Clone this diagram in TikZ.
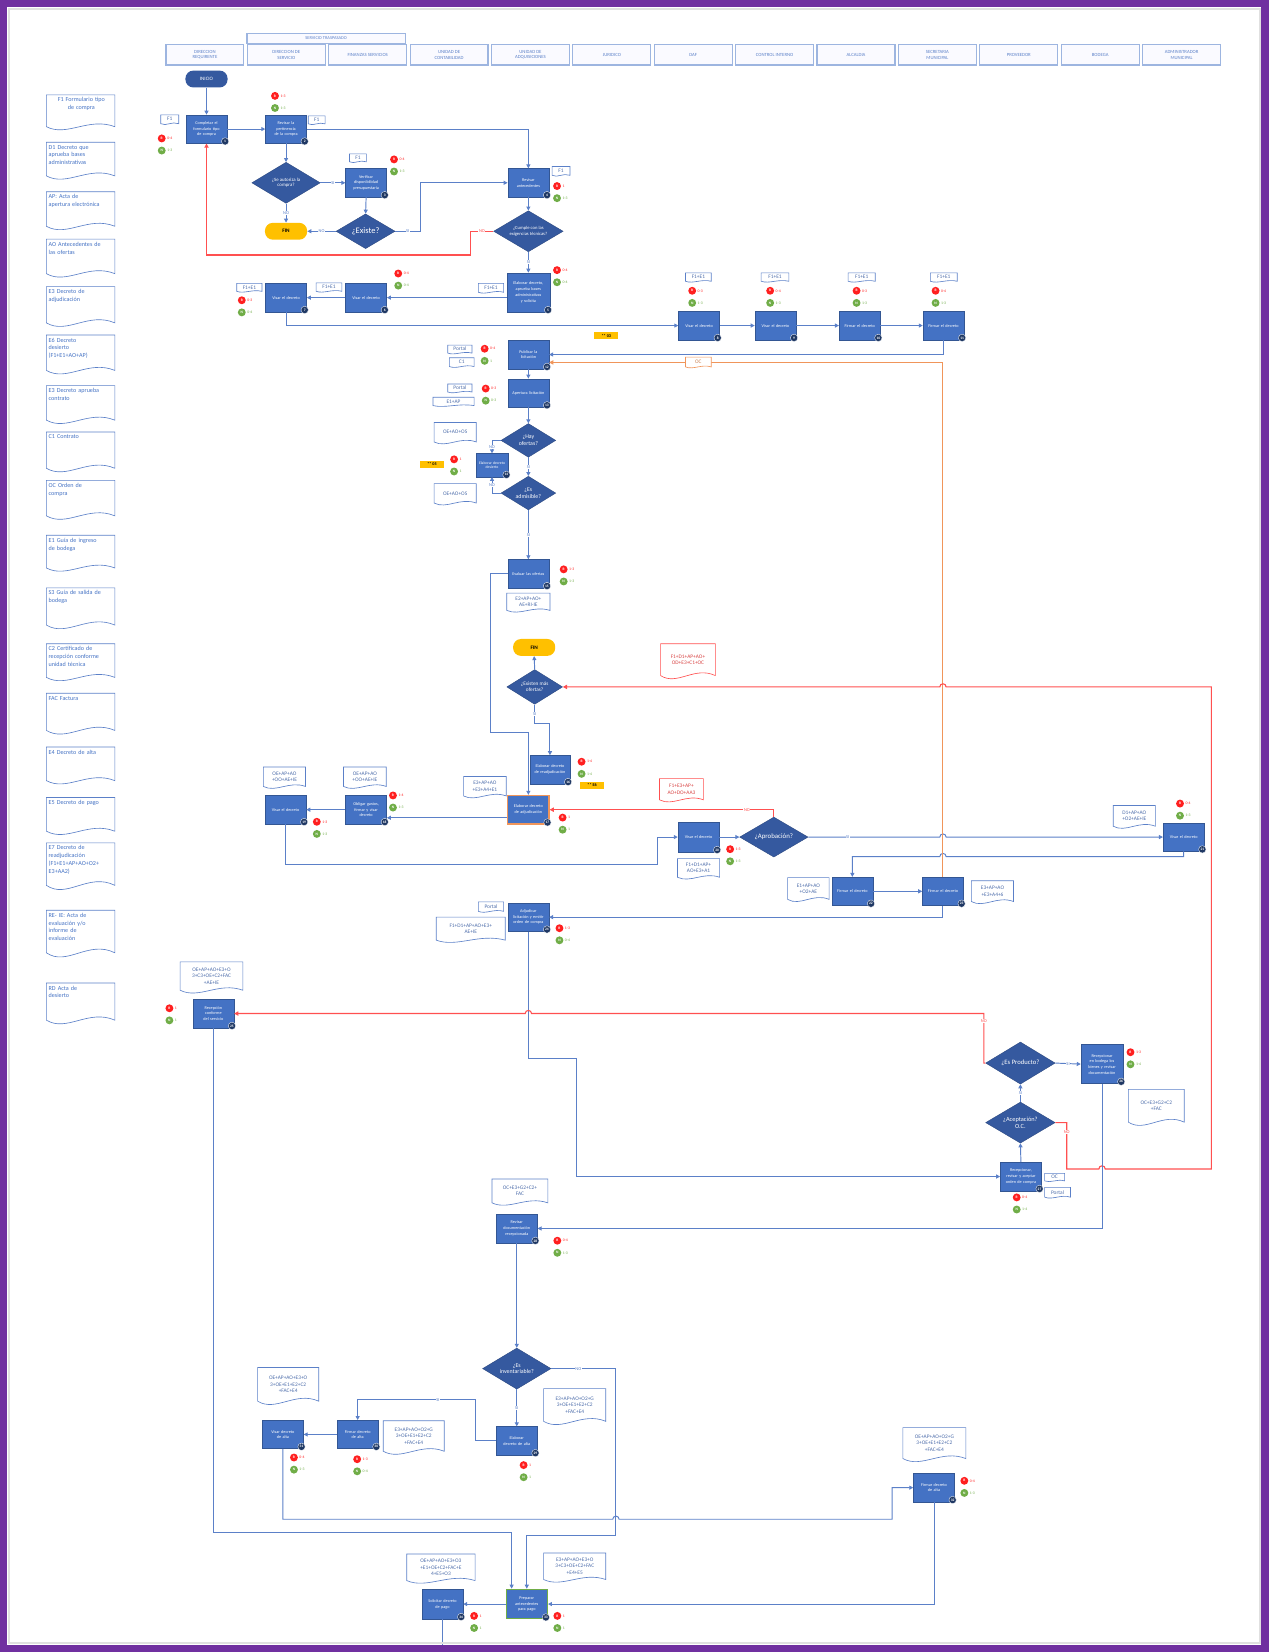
\documentclass[tikz,border=0pt]{standalone}
\usepackage{fontspec}
\setmainfont{Carlito}
\usetikzlibrary{shapes.geometric,arrows.meta}
\definecolor{pblue}{HTML}{4472C4}
\definecolor{dblue}{HTML}{35599F}
\definecolor{navy}{HTML}{1F3864}
\definecolor{lblue}{HTML}{5B80C8}
\definecolor{lanec}{HTML}{9DB5E0}
\definecolor{rline}{HTML}{FF5050}
\definecolor{oline}{HTML}{F0955A}
\definecolor{purp}{HTML}{7030A0}
\definecolor{ylw}{HTML}{FFC000}
\definecolor{gdot}{HTML}{70AD47}
\definecolor{rdot}{HTML}{FF1F1F}
\tikzset{
  lane/.style={rectangle, draw=lanec, line width=1.1pt, fill=blue!2, minimum width=74pt, minimum height=19.5pt, inner sep=0pt, align=center, font=\fontsize{4.5}{5.4}\selectfont, text=lblue},
  proc/.style={rectangle, fill=pblue, draw=pblue!75!black, line width=0.35pt, text=white, font=\fontsize{4}{5.4}\selectfont, minimum width=39pt, minimum height=27pt, text width=31pt, align=center, inner sep=1pt},
  dec/.style={diamond, shape aspect=1.6, fill=dblue, draw=dblue!80!black, line width=0.35pt, text=white, align=center, inner sep=0pt},
  term/.style={rectangle, rounded corners=7.5pt, minimum width=40pt, minimum height=16pt, inner sep=0pt, font=\fontsize{4.8}{5}\selectfont},
  badge/.style={circle, fill=navy, draw=white, line width=0.3pt, text=white, font=\fontsize{3.4}{3.4}\selectfont\bfseries, minimum size=7pt, inner sep=0pt},
  conn/.style={draw=lblue, line width=0.9pt, -{Triangle[length=3.8pt,width=3.8pt]}},
  lineonly/.style={draw=lblue, line width=0.9pt},
  redc/.style={draw=rline, line width=1.05pt, -{Triangle[length=4pt,width=4pt]}},
  orc/.style={draw=oline, line width=0.9pt, -{Triangle[length=4pt,width=4pt]}},
  lbl/.style={font=\fontsize{4.2}{4.2}\selectfont, text=lblue, fill=white, inner sep=0.6pt},
  rlbl/.style={lbl, text=rline},
  docline/.style={line width=0.6pt, fill=white},
  doctext/.style={font=\fontsize{5.1}{6}\selectfont, align=center, inner sep=0pt},
  ltext/.style={anchor=north west, text width=62pt, inner sep=0pt, font=\fontsize{5.8}{7.4}\selectfont, text=pblue},
  rdotn/.style={circle, fill=rdot, minimum size=7.5pt, inner sep=0pt, text=white, font=\fontsize{3.4}{3.4}\selectfont\bfseries},
  gdotn/.style={circle, fill=gdot, minimum size=7.5pt, inner sep=0pt, text=white, font=\fontsize{3.4}{3.4}\selectfont\bfseries},
  rlab/.style={anchor=west, inner sep=0.3pt, text=rdot, font=\fontsize{3.6}{3.6}\selectfont},
  glab/.style={anchor=west, inner sep=0.3pt, text=gdot, font=\fontsize{3.6}{3.6}\selectfont},
  ytag/.style={fill=ylw, minimum width=23pt, minimum height=7pt, inner sep=0pt, font=\fontsize{4}{4}\selectfont\bfseries},
}
% document shape: [colour] name x y(top) w h text
\newcommand\docu[7][lblue]{%
  \draw[docline,draw=#1] (#3,#4) -- (#3,#4+0.84*#6) .. controls (#3+0.3*#5,#4+1.12*#6) and (#3+0.62*#5,#4+0.58*#6) .. (#3+#5,#4+0.84*#6) -- (#3+#5,#4) -- cycle;
  \node[doctext,text=#1!85!black] (#2) at (#3+0.5*#5,#4+0.42*#6) {#7};
}
% left column document: [align] name ytop h text
\newcommand\ldoc[5][align=left]{%
  \draw[docline,draw=lblue] (44,#3) -- (44,#3+0.84*#4) .. controls (63.5,#3+1.12*#4) and (84,#3+0.58*#4) .. (109,#3+0.84*#4) -- (109,#3) -- cycle;
  \node[ltext,#1] (#2) at (46,#3+2.5) {#5};
}
% process box with number badge
\newcommand\pbox[6][]{%
  \node[proc,#1] (#2) at (#3,#4) {#5};
  \node[badge] (#2n) at ([xshift=-2pt,yshift=2pt]#2.south east) {#6};
}
% risk circles
\newcommand\rg[5]{%
  \node[rdotn] (#1r) at (#2,#3) {R};
  \node[rlab] (#1rl) at ([xshift=0.8pt]#1r.east) {#4};
  \node[gdotn] (#1g) at (#2,#3+11.5) {N};
  \node[glab] (#1gl) at ([xshift=0.8pt]#1g.east) {#5};
}
\begin{document}
\hyphenpenalty=10000
\exhyphenpenalty=10000
\begin{tikzpicture}[x=1pt,y=-1pt]
\useasboundingbox (0,0) rectangle (1204,1568);
\fill[white] (0,0) rectangle (1204,1568);

% ---------- header ----------
\node[lane, minimum width=150pt, minimum height=9.5pt, font=\fontsize{4.2}{4.2}\selectfont] (ST) at (309.5,36.4) {SERVICIO TRASPASADO};
\foreach \i/\t in {0/{DIRECCION\\REQUIRENTE},1/{DIRECCION DE\\SERVICIO},2/{FINANZAS SERVICIOS},3/{UNIDAD DE\\CONTABILIDAD},4/{UNIDAD DE\\ADQUISICIONES},5/{JURIDICO},6/{DAF},7/{CONTROL INTERNO},8/{ALCALDIA},9/{SECRETARIA\\MUNICIPAL},10/{PROVEEDOR},11/{BODEGA},12/{ADMINISTRADOR\\MUNICIPAL}}
  \node[lane] (L\i) at ({194.5+77.25*\i},52) {\t};

% ---------- left documents ----------
\ldoc[align=center]{ld1}{90}{36}{F1 Formulario tipo\\de compra}
\ldoc{ld2}{135}{38}{D1 Decreto que\\aprueba bases\\administrativas}
\ldoc{ld3}{182}{39}{AP: Acta de\\apertura electrónica}
\ldoc{ld4}{227}{39}{AO Antecedentes de\\las ofertas}
\ldoc{ld5}{272}{41}{E3 Decreto de\\adjudicación}
\ldoc{ld6}{318}{40}{E6 Decreto\\desierto\\(F1+E1+AO+AP)}
\ldoc{ld7}{366}{39}{E3 Decreto aprueba\\contrato}
\ldoc{ld8}{410}{41}{C1 Contrato}
\ldoc{ld9}{456}{40}{OC Orden de\\compra}
\ldoc{ld10}{508}{37}{E1 Guía de ingreso\\de bodega}
\ldoc{ld11}{558}{42}{S3 Guía de salida de\\bodega}
\ldoc{ld12}{611}{38}{C2 Certificado de\\recepción conforme\\unidad técnica}
\ldoc{ld13}{658}{42}{FAC Factura}
\ldoc{ld14}{709}{38}{E4 Decreto de alta}
\ldoc{ld15}{757}{38}{E5 Decreto de pago}
\ldoc{ld16}{800}{48}{E7 Decreto de\\readjudicación\\(F1+E1+AP+AO+O2+\\E3+AA2)}
\ldoc{ld17}{864}{48}{RE- IE: Acta de\\evaluación y/o\\informe de\\evaluación}
\ldoc{ld18}{933}{42}{RD Acta de\\desierto}

% ---------- main nodes ----------
\node[term, fill=dblue, text=white] (ini) at (196,75) {INICIO};
\pbox{b1}{196}{122.5}{Completar el formulario tipo de compra}{1}
\pbox{b2}{271.5}{122.5}{Revisar la pertinencia de la compra}{2}
\node[dec, minimum width=65pt, minimum height=39pt, font=\fontsize{4.6}{5.4}\selectfont] (dA) at (271.5,173.5) {¿Se autoriza la\\compra?};
\pbox{b3}{347.5}{173.5}{Verificar disponibilidad presupuestaria}{3}
\node[dec, minimum width=56pt, minimum height=33pt, font=\fontsize{8}{8}\selectfont] (dB) at (347,219.5) {¿Existe?};
\node[term, fill=ylw, font=\fontsize{5}{5}\selectfont\bfseries] (fin1) at (271.5,219.5) {FIN};
\pbox{b4}{501.5}{173.5}{Revisar antecedentes}{4}
\node[dec, minimum width=66pt, minimum height=39pt, font=\fontsize{4.4}{5.2}\selectfont] (dC) at (501.5,219.5) {¿Cumple con las\\exigencias técnicas?};
\pbox[minimum width=41pt, minimum height=37pt]{b5}{501.5}{277.5}{Elaborar decreto, aprueba bases administrativas y solicita}{5}
\pbox{b6}{347.5}{282.5}{Visar el decreto}{6}
\pbox{b7}{271.5}{282.5}{Visar el decreto}{7}
\pbox{b8}{663.5}{309}{Visar el decreto}{8}
\pbox{b9}{736}{309}{Visar el decreto}{9}
\pbox{b10}{816}{309}{Firmar el decreto}{10}
\pbox{b11}{895.5}{309}{Firmar el decreto}{11}
\pbox{b12}{501.5}{336.5}{Publicar la licitación}{12}
\pbox{b13}{501.5}{373}{Apertura licitación}{13}
\node[dec, minimum width=52pt, minimum height=32pt, font=\fontsize{5.5}{6.2}\selectfont] (dD) at (501.5,418) {¿Hay\\ofertas?};
\pbox[minimum width=31pt, minimum height=22pt, text width=27pt, font=\fontsize{3.6}{4.4}\selectfont]{b14}{467}{441.5}{Elaborar decreto desierto}{14}
\node[dec, minimum width=52pt, minimum height=32pt, font=\fontsize{5.5}{6.2}\selectfont] (dE) at (501.5,468) {¿Es\\admisible?};
\pbox{b15}{501.5}{544.5}{Evaluar las ofertas}{15}
\node[term, fill=ylw, font=\fontsize{5}{5}\selectfont\bfseries] (fin2) at (507,614.5) {FIN};
\node[dec, minimum width=53pt, minimum height=33pt, font=\fontsize{5}{5.8}\selectfont] (dF) at (507.5,652) {¿Existen más\\ofertas?};
\pbox[minimum width=38pt]{b16}{522}{730.5}{Elaborar decreto de readjudicación}{16}
\pbox[draw=oline, line width=1.2pt]{b17}{501.5}{768.5}{Elaborar decreto de adjudicación}{17}
\pbox{b19}{347.5}{768.5}{Obligar gastos, firmar y visar decreto}{18}
\pbox{b18}{271}{768.5}{Visar el decreto}{19}
\pbox[minimum height=28pt]{b20}{663}{794.5}{Visar el decreto}{20}
\node[dec, minimum width=65pt, minimum height=38pt, font=\fontsize{6.5}{6.5}\selectfont] (dG) at (734.5,794.5) {¿Aprobación?};
\pbox{b21}{1123.5}{794.5}{Visar el decreto}{21}
\pbox{b22}{809}{846}{Firmar el decreto}{22}
\pbox{b23}{895}{846}{Firmar el decreto}{23}
\pbox{b24}{501.5}{870.5}{Adjudicar licitación y emitir orden de compra}{24}
\pbox{b26}{202.5}{962}{Recepción conforme del servicio}{25}
\node[dec, minimum width=66pt, minimum height=40pt, font=\fontsize{6.3}{6.3}\selectfont] (dI) at (968.5,1009) {¿Es Producto?};
\pbox[minimum width=40pt, minimum height=37pt]{b27}{1046}{1010}{Recepcionar en bodega los bienes y revisar documentación}{26}
\node[dec, minimum width=66pt, minimum height=39pt, font=\fontsize{6}{6.8}\selectfont] (dH) at (968.5,1065.5) {¿Aceptación?\\O.C.};
\pbox{b25}{969}{1116.7}{Recepcionar, revisar y aceptar orden de compra}{27}
\pbox{b28}{490.5}{1166}{Revisar documentación recepcionada}{28}
\node[dec, minimum width=65pt, minimum height=39pt, font=\fontsize{5.6}{6.4}\selectfont] (dJ) at (490.5,1299) {¿Es\\inventariable?};
\pbox{b29}{490.5}{1367.5}{Elaborar decreto de alta}{29}
\pbox{b30}{339.5}{1361.5}{Firmar decreto de alta}{30}
\pbox{b31}{268.5}{1361.5}{Visar decreto de alta}{31}
\pbox{b32}{886.5}{1412}{Firmar decreto de alta}{32}
\pbox[draw=gdot, line width=1.2pt, minimum height=28pt]{b33}{500}{1522.5}{Preparar antecedentes para pago}{33}
\pbox[minimum height=28pt]{b34}{420}{1522.5}{Solicitar decreto de pago}{34}

% ---------- small documents ----------
\docu{dd1}{152.6}{109}{17}{10}{F1}
\docu{dd2}{292.6}{110}{16}{9}{F1}
\docu{dd3}{331.7}{146}{16}{9}{F1}
\docu{dd4}{524}{158}{17}{10}{F1}
\docu{dd5}{454}{269}{24}{10}{F1+E1}
\docu{dd6}{300}{268.5}{24.5}{9.5}{F1+E1}
\docu{dd7}{224.7}{269}{24}{9}{F1+E1}
\docu{dd8}{650.6}{259}{24.5}{9.5}{F1+E1}
\docu{dd9}{722.4}{259}{26.4}{9.5}{F1+E1}
\docu{dd10}{805}{259}{25.7}{9.5}{F1+E1}
\docu{dd11}{883}{259}{25.6}{9.5}{F1+E1}
\docu{dp12}{425}{327.6}{23}{9}{Portal}
\docu{dc12}{426.5}{339.5}{23.5}{10}{C1}
\docu{dp13}{425}{364.5}{23}{9}{Portal}
\docu{de13}{411}{377}{39}{9.5}{E1+AP}
\docu{ddD}{412}{401}{40}{22}{OE+AO+OS}
\docu{ddE}{412}{459}{40}{22}{OE+AO+OS}
\docu{dd15}{481}{563}{41}{19.5}{E2+AP+AO+\\AE+RI-IE}
\docu[rline]{ddFr}{627}{611}{52}{36}{F1+D1+AP+AO+\\OD+E3+C1+OC}
\docu{dd17}{440}{737}{40.5}{22}{E3+AP+AO\\+E3+A4+E1}
\docu{dd19}{326}{728}{40.6}{22}{OE+AP+AO\\+OO+AE+IE}
\docu{dd18}{250}{728}{40}{22}{OE+AP+AO\\+OO+AE+IE}
\docu[rline]{ddGr}{626}{739}{41.6}{24}{F1+E3+AP+\\AO+DO+AA3}
\docu{dd20}{643}{815}{40}{21}{F1+D1+AP+\\AO+E3+A1}
\docu{dd21}{1056.6}{764.5}{40}{23.5}{D1+AP+AO\\+O2+AE+IE}
\docu{dd22}{747.6}{833}{39.4}{24.6}{E1+AP+AO\\+O2+AE}
\docu{dd23}{922}{836}{40}{23.5}{E3+AP+AO\\+E3+A4+6}
\docu{dp24}{454}{856}{24}{10.7}{Portal}
\docu{dd24}{414}{870.5}{65.6}{26}{F1+D1+AP+AO+E3+\\AE+IE}
\docu{dd26}{171}{913}{59.5}{32}{OE+AP+AO+E3+O\\3+C3+OE+C2+FAC\\+AE+IE}
\docu{dd27}{1071}{1034}{53}{37}{OC+E3+G2+C2\\+FAC}
\docu{doc25}{991.5}{1113.7}{19}{8.5}{OC}
\docu{dp25}{991.5}{1127}{24.5}{11}{Portal}
\docu{dd28}{467}{1119}{53}{27}{OC+E3+G2+C2+\\FAC}
\docu{dd31}{244.5}{1298}{58}{38}{OE+AP+AO+E3+O\\3+OE+E1+E2+C2\\+FAC+E4}
\docu{dd30}{363.8}{1348.5}{57.8}{34.5}{E3+AP+AO+O2+G\\3+OE+E1+E2+C2\\+FAC+E4}
\docu{dd29}{516}{1318}{59}{37}{E3+AP+AO+O2+G\\3+OE+E1+E2+C2\\+FAC+E4}
\docu{dd32}{857}{1355}{59.7}{35}{OE+AP+AO+O2+G\\3+OE+E1+E2+C2\\+FAC+E4}
\docu{dd34}{386}{1475}{65}{30}{OE+AP+AO+E3+O3\\+E1+OE+C2+FAC+E\\4+E5+O3}
\docu{dd33}{516}{1474}{59}{30}{E3+AP+AO+E3+O\\3+C3+OE+C2+FAC\\+E4+E5}

% ---------- tags ----------
\node[ytag] (y03) at (575.5,318.5) {** 03};
\node[ytag] (y05) at (410,440.7) {** 05};
\node[ytag] (yE6) at (562,745.3) {** E6};

% ---------- risk circles ----------
\rg{c1}{153.5}{131.4}{0-4}{1-3}
\rg{c2}{261}{91}{1-3}{1-3}
\rg{c3}{374}{151.3}{0-4}{1-3}
\rg{c4}{528.7}{176.6}{1}{1-3}
\rg{c5}{528.7}{256.4}{0-4}{0-4}
\rg{c6}{378}{259.6}{0-4}{0-4}
\rg{c7}{229.5}{285}{0-3}{0-4}
\rg{c8}{657}{276}{0-3}{1-3}
\rg{c9}{731}{276}{0-4}{1-3}
\rg{c10}{813}{276}{0-3}{1-3}
\rg{c11}{888}{276}{0-4}{1-3}
\rg{c12}{460}{331}{0-4}{1}
\rg{c13}{461}{368.8}{0-3}{0-3}
\rg{c14}{431}{436}{1}{1}
\rg{c15}{535}{540.4}{1-3}{1-3}
\rg{c16}{552}{723}{1-4}{1-4}
\rg{c17}{534}{776}{1}{1}
\rg{c18}{300.7}{780}{1-3}{1-3}
\rg{c19}{373}{755}{1-4}{1-3}
\rg{c20}{693}{806}{1-3}{1-3}
\rg{c21}{1120}{762.7}{0-4}{1-3}
\rg{c24}{531}{881}{1-3}{0-4}
\rg{c25}{965}{1136.5}{0-4}{1-4}
\rg{c26}{160.8}{957}{1}{1}
\rg{c27}{1073}{998.7}{1-3}{1-4}
\rg{c28}{529}{1177.6}{0-4}{1-3}
\rg{c29}{497}{1390.6}{1}{1}
\rg{c30}{339}{1385}{1-3}{0-4}
\rg{c31}{279}{1383.4}{0-4}{1-3}
\rg{c32}{915.3}{1405.5}{0-4}{1-3}
\rg{c33}{529}{1533.7}{1}{1}
\rg{c34}{450}{1533.7}{1}{1}

% ---------- connectors ----------
\draw[conn] (ini.south) -- (b1.north);
\draw[conn] (b1.east) -- (b2.west);
\draw[conn] (b2.south) -- (dA.north);
\draw[conn] (b2.east) -| (b4.north);
\draw[conn] (dA.east) -- node[lbl]{SI} (b3.west);
\draw[conn] (dA.south) -- node[lbl]{NO} (fin1.north);
\draw[conn] (b3.south) -- (dB.north);
\draw[conn] (dB.west) -- node[lbl]{NO} (fin1.east);
\draw[conn] (dB.east) -- node[lbl]{SI} (398.9,219.5) |- (b4.west);
\draw[conn] (b4.south) -- (dC.north);
\draw[redc] (dC.west) -- node[rlbl]{NO} (446.5,219.5) -- (446.5,242) -| (b1.south);
\draw[conn] (dC.south) -- node[lbl]{SI} (b5.north);
\draw[conn] (b5.west |- b6.east) -- (b6.east);
\draw[conn] (b6.west) -- (b7.east);
\draw[conn] (b7.south) |- (b8.west);
\draw[conn] (b8.east) -- (b9.west);
\draw[conn] (b9.east) -- (b10.west);
\draw[conn] (b10.east) -- (b11.west);
\draw[conn] (b11.south) |- (b12.east);
\draw[conn] (b12.south) -- (b13.north);
\draw[conn] (b13.south) -- (dD.north);
\draw[conn] (dD.west) -| node[lbl,pos=0.75]{NO} (b14.north);
\draw[conn] (dD.south) -- node[lbl]{SI} (dE.north);
\draw[conn] (dE.west) -| node[lbl,pos=0.75]{NO} (b14.south);
\draw[conn] (dE.south) -- node[lbl]{SI} (b15.north);
\draw[conn] (b15.west) -| (466,695.5) -| (b17.north);
\draw[conn] (dF.north) -- (fin2.south);
\draw[conn] (dF.south) -- node[lbl,pos=0.5]{SI} (507.5,686.3) -| (b16.north);
\draw[conn] ([yshift=-7.7pt]b17.west) -- ([yshift=-7.7pt]b19.east);
\draw[conn] (b19.west) -- (b18.east);
\draw[conn] (b18.south) |- (623.6,820.5) |- (b20.west);
\draw[conn] (b20.east) -- (dG.west);
\draw[redc] (dG.north) |- node[rlbl,pos=0.56]{NO} (b17.east);
\draw[conn] (dG.east) -- node[lbl,pos=0.3]{SI} (892,794.5) arc[start angle=180,end angle=0,radius=3pt] -- (b21.west);
\draw[conn] (b21.south) |- (898,813) arc[start angle=0,end angle=180,radius=3pt] -| (b22.north);
\draw[conn] (b22.east) -- (b23.west);
\draw[conn] (b23.south) |- (b24.east);
\draw[orc] (b23.north) |- ([yshift=-7.5pt]b12.east);
\docu[oline]{docOC}{650.6}{339}{24.5}{11}{OC}
\draw[conn] (b24.south) |- (547.6,1004.5) |- (b25.west);
\draw[conn] (b25.north) -- (dH.south);
\draw[conn] (dH.north) -- node[lbl]{SI} (dI.south);
\draw[conn] (dI.east) -- node[lbl]{SI} (b27.west);
\draw[redc] (dI.west) -- (933.8,1009) -- node[rlbl,pos=0.85]{NO} (933.8,962) -- (504.5,962) arc[start angle=0,end angle=180,radius=3pt] -- (b26.east);
\draw[redc] (dH.east) -- (1012.5,1065.5) -- node[rlbl,pos=0.2]{NO} (1012.5,1109.5) -- (1043,1109.5) arc[start angle=180,end angle=0,radius=3pt] -- (1149.8,1109.5) -- (1149.8,652) -- (898,652) arc[start angle=0,end angle=180,radius=3pt] -- (dF.east);
\draw[conn] (b27.south) |- (b28.east);
\draw[conn] (b28.south) -- (dJ.north);
\draw[conn] (dJ.south) -- node[lbl]{SI} (b29.north);
\draw[conn] (b29.west) -| (451.4,1328.6) -- node[lbl,pos=0.32]{SI} (339.5,1328.6) -- (b30.north);
\draw[conn] (b30.west) -- (b31.east);
\draw[conn] (b31.south) |- (581.6,1442) arc[start angle=180,end angle=0,radius=3pt] -- (846.8,1442) |- (b32.west);
\draw[conn] (b32.south) |- (b33.east);
\coordinate (k8) at (485.6,1455);
\draw[conn] (b26.south) |- (k8) -- (k8 |- b33.north);
\coordinate (k9) at (584.6,1457);
\draw[conn] (dJ.east) -- node[lbl,pos=0.42]{NO} (dJ.east -| k9) -- (k9) -| (b33.north);
\draw[conn] (b33.west) -- (b34.east);
\coordinate (tail) at (420,1566);
\draw[lineonly] (b34.south) -- (tail);

% ---------- frame ----------
\draw[black!12, line width=2pt] (8.5,8.5) rectangle (1195.5,1559.5);
\draw[purp, line width=7pt] (3.5,3.5) rectangle (1200.5,1564.5);
\end{tikzpicture}
\end{document}
